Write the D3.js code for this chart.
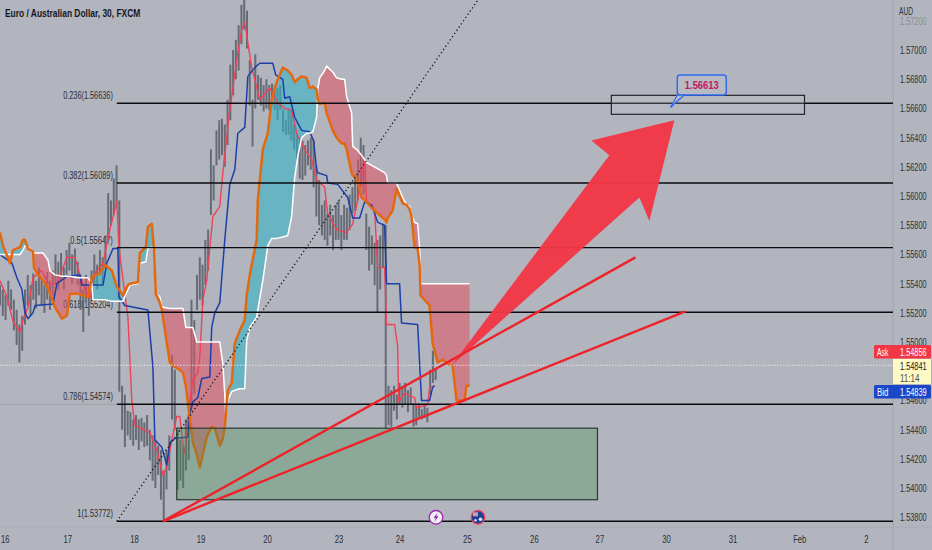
<!DOCTYPE html>
<html>
<head>
<meta charset="utf-8">
<script src="https://cdn.jsdelivr.net/npm/d3@7"></script>
<style>
  html, body { margin: 0; padding: 0; background: #b2b5be; }
  svg { display: block; }
  text { font-family: "Liberation Sans", sans-serif; }
</style>
</head>
<body>
<div id="chart"></div>
<script>
'use strict';

// 30 minute bars counted from the open of the 16th, one label per session
var dayTickBars = [3.5, 48.5, 96.6, 144.5, 192.4, 244, 288, 336.5, 384.8, 432, 480, 528, 576, 624];
var dayTickLabels = ['16', '17', '18', '19', '20', '23', '24', '25', '26', '27', '30', '31', 'Feb', '2'];
var priceTicks = [1.572, 1.57, 1.568, 1.566, 1.564, 1.562, 1.56, 1.558, 1.556, 1.554, 1.552, 1.55, 1.546, 1.544, 1.542, 1.54, 1.538];

// fib retracement
var fibRatios = ['0.236', '0.382', '0.5', '0.618', '0.786', '1'];
var fibPrices = [1.56636, 1.56089, 1.55647, 1.55204, 1.54574, 1.53772];

// candles, one high/low pair every 2 bars
var candleHighs = [1.5539,1.5536,1.5532,1.5542,1.5536,1.5529,1.5522,1.5512,1.5518,1.5536,1.5546,1.5539,1.5547,1.5542,1.5551,1.5544,1.5539,1.5548,1.5542,1.5549,
  1.5560,1.5555,1.5561,1.5551,1.5563,1.5568,1.5560,1.5564,1.5555,1.5546,1.5536,1.5546,1.5539,1.5549,1.5560,1.5553,1.5563,1.5558,1.5573,1.5602,
  1.5597,1.5612,1.5621,1.5597,1.5470,1.5464,1.5453,1.5452,1.5447,1.5450,1.5447,1.5448,1.5445,1.5450,1.5440,1.5436,1.5433,1.5429,1.5426,1.5412,
  1.5426,1.5436,1.5491,1.5481,1.5440,1.5433,1.5429,1.5447,1.5450,1.5529,1.5515,1.5546,1.5558,1.5553,1.5570,1.5577,1.5632,1.5621,1.5645,1.5652,
  1.5653,1.5649,1.5666,1.5690,1.5700,1.5707,1.5717,1.5731,1.5740,1.5727,1.5693,1.5666,1.5697,1.5683,1.5681,1.5676,1.5680,1.5676,1.5677,1.5676,
  1.5674,1.5676,1.5659,1.5652,1.5660,1.5659,1.5649,1.5642,1.5640,1.5638,1.5635,1.5638,1.5640,1.5638,1.5621,1.5611,1.5594,1.5597,1.5588,1.5594,
  1.5587,1.5594,1.5597,1.5587,1.5594,1.5592,1.5601,1.5606,1.5614,1.5625,1.5640,1.5635,1.5588,1.5579,1.5573,1.5568,1.5570,1.5573,1.5581,1.5580,
  1.5470,1.5467,1.5470,1.5464,1.5472,1.5470,1.5472,1.5467,1.5469,1.5458,1.5457,1.5458,1.5454,1.5458,1.5455,1.5481,1.5494,1.5482];
var candleLows = [1.5525,1.5518,1.5515,1.5525,1.5522,1.5508,1.5498,1.5486,1.5494,1.5512,1.5525,1.5518,1.5529,1.5523,1.5532,1.5525,1.5520,1.5529,1.5522,1.5532,
  1.5539,1.5536,1.5542,1.5536,1.5546,1.5549,1.5540,1.5546,1.5539,1.5522,1.5507,1.5529,1.5518,1.5529,1.5539,1.5536,1.5546,1.5540,1.5553,1.5570,
  1.5580,1.5587,1.5594,1.5466,1.5440,1.5428,1.5436,1.5433,1.5429,1.5433,1.5426,1.5432,1.5428,1.5429,1.5419,1.5405,1.5400,1.5409,1.5392,1.5378,
  1.5399,1.5412,1.5447,1.5440,1.5399,1.5405,1.5400,1.5412,1.5419,1.5453,1.5464,1.5522,1.5529,1.5525,1.5539,1.5549,1.5587,1.5597,1.5621,1.5625,
  1.5628,1.5620,1.5635,1.5652,1.5669,1.5680,1.5686,1.5704,1.5714,1.5701,1.5662,1.5634,1.5660,1.5666,1.5662,1.5658,1.5660,1.5659,1.5662,1.5659,
  1.5652,1.5659,1.5644,1.5642,1.5642,1.5638,1.5632,1.5625,1.5612,1.5611,1.5614,1.5621,1.5618,1.5606,1.5586,1.5580,1.5573,1.5570,1.5566,1.5573,
  1.5563,1.5570,1.5570,1.5563,1.5570,1.5570,1.5577,1.5588,1.5590,1.5597,1.5606,1.5601,1.5563,1.5549,1.5553,1.5539,1.5520,1.5536,1.5551,1.5441,
  1.5443,1.5442,1.5453,1.5447,1.5457,1.5455,1.5457,1.5452,1.5457,1.5442,1.5443,1.5448,1.5447,1.5448,1.5445,1.5464,1.5472,1.5474];

// ichimoku cloud, both spans sampled at the same bars
var cloudBars = [0,2.2,4.3,7.2,9.4,14.4,16.6,18,20.2,23.8,24.5,27.4,31,34.6,36,39.6,44.6,48.2,50.4,56.2,59.8,63.4,66.2,67,72,75.6,80.6,84.2,88.6,92.2,93.6,99.4,100.8,105.1,106.6,109.4,110.9,112.3,115.2,116.6,
  122.4,126,129.6,131.8,133.9,139,141.8,144,149,152.6,154.8,158.4,160.6,162,162.7,164.2,167,169.2,172.8,176.4,177.8,180,185,185.8,189.4,193,195.8,199.4,203.8,207.4,210.2,212.4,214.6,217.4,221,223.2,225.4,228.2,229,230.4,
  234,235.4,239.8,242.6,246.2,248.4,249.8,253.4,254.2,257,260.6,264.2,267.8,273.6,277.2,278.6,279.4,283,285.8,288,290.2,293,295.2,296.6,298.8,301,302.4,303.1,309.6,311.8,315.4,319,322.6,326.2,329,334.8,336.2,338.4];
var spanAPrices = [1.5560,1.5560,1.5560,1.5560,1.5560,1.5560,1.5563,1.5566,1.5565,1.5562,1.5561,1.5561,1.5561,1.5556,1.5549,1.5546,1.5545,1.5545,1.5545,1.5544,1.5544,1.5544,1.5540,1.5529,1.5529,1.5529,1.5528,1.5528,1.5528,1.5536,1.5539,1.5540,1.5554,1.5555,1.5564,1.5565,1.5563,1.5533,1.5531,1.5524,
  1.5523,1.5523,1.5523,1.5523,1.5510,1.5510,1.5500,1.5500,1.5500,1.5500,1.5500,1.5500,1.5485,1.5464,1.5450,1.5460,1.5466,1.5467,1.5468,1.5468,1.5501,1.5510,1.5517,1.5522,1.5542,1.5566,1.5571,1.5571,1.5572,1.5573,1.5586,1.5613,1.5627,1.5640,1.5643,1.5643,1.5644,1.5654,1.5673,1.5681,
  1.5686,1.5689,1.5685,1.5681,1.5680,1.5680,1.5668,1.5657,1.5634,1.5632,1.5628,1.5623,1.5621,1.5618,1.5616,1.5614,1.5609,1.5609,1.5609,1.5604,1.5599,1.5594,1.5593,1.5587,1.5582,1.5581,1.5565,1.5540,1.5540,1.5540,1.5540,1.5540,1.5540,1.5540,1.5540,1.5540,1.5540,1.5540];
var spanBPrices = [1.5575,1.5566,1.5561,1.5554,1.5563,1.5565,1.5570,1.5570,1.5564,1.5562,1.5551,1.5546,1.5542,1.5537,1.5533,1.5524,1.5516,1.5518,1.5533,1.5533,1.5532,1.5531,1.5544,1.5545,1.5547,1.5553,1.5549,1.5538,1.5532,1.5539,1.5540,1.5541,1.5561,1.5565,1.5579,1.5581,1.5565,1.5533,1.5527,1.5522,
  1.5486,1.5483,1.5481,1.5479,1.5470,1.5431,1.5423,1.5414,1.5435,1.5442,1.5441,1.5429,1.5434,1.5442,1.5450,1.5467,1.5472,1.5499,1.5508,1.5515,1.5532,1.5546,1.5570,1.5597,1.5632,1.5643,1.5666,1.5678,1.5688,1.5686,1.5683,1.5678,1.5680,1.5682,1.5681,1.5674,1.5675,1.5673,1.5666,1.5663,
  1.5664,1.5657,1.5645,1.5640,1.5636,1.5636,1.5632,1.5616,1.5614,1.5612,1.5599,1.5596,1.5592,1.5587,1.5584,1.5582,1.5585,1.5590,1.5605,1.5600,1.5595,1.5594,1.5591,1.5586,1.5565,1.5564,1.5553,1.5532,1.5525,1.5499,1.5486,1.5488,1.5485,1.5484,1.5460,1.5460,1.5470,1.5470];

// base line (blue)
var kijunBars = [0,8.6,12.2,15.8,18,20.2,23.8,25.2,38.2,41,48.2,57.6,59,74.2,77,81.4,85,85.7,90,106.6,110.2,111.6,116.6,120.2,122.4,126,135.4,136.8,139,142.6,145.4,151.2,152.6,154.8,158.4,162,165.6,169.2,171.4,176.4,
  178.6,183.6,187.2,196.6,198.7,203.8,205.2,208.8,212.4,217.4,223.2,226,228.2,229,235.4,236.2,243.4,250.6,254.2,259.2,262.8,267.8,272.2,277.2,278.6,288,289.4,301,303.8,309.6,311.8,313.2];
var kijunPrices = [1.5560,1.5554,1.5544,1.5536,1.5520,1.5516,1.5520,1.5525,1.5526,1.5540,1.5545,1.5546,1.5539,1.5539,1.5554,1.5564,1.5564,1.5531,1.5525,1.5522,1.5483,1.5433,1.5428,1.5416,1.5431,1.5434,1.5435,1.5451,1.5459,1.5462,1.5475,1.5476,1.5510,1.5520,1.5527,1.5570,1.5608,1.5618,1.5643,1.5647,
  1.5682,1.5688,1.5691,1.5691,1.5683,1.5680,1.5667,1.5668,1.5654,1.5645,1.5644,1.5638,1.5618,1.5616,1.5614,1.5609,1.5608,1.5599,1.5585,1.5585,1.5596,1.5594,1.5582,1.5580,1.5540,1.5540,1.5513,1.5512,1.5460,1.5460,1.5469,1.5470];

// conversion line (red)
var tenkanBars = [0,5,9.4,14.4,16.6,20.2,23.8,30.2,34.6,41,48.2,54,57.6,61.2,64.8,68.4,74.2,79.2,84.2,85.7,92.2,95,97.2,108,113,117.4,120.2,123.8,127.4,129.6,131.8,133.2,136.8,139,142.6,144,146.2,149,153.4,158.4,
  160.6,165.6,170.6,174.2,176.4,181.4,187.2,194.4,200.2,205.2,210.2,213.8,219.6,224.6,228.2,234,236.2,242.6,249.8,254.2,257.8,262.8,264.2,267.8,270,272.2,277.2,278.6,284.4,286.6,287.3,291.6,298.8,300.2,308.2,309.6,313.2];
var tenkanPrices = [1.5542,1.5531,1.5514,1.5507,1.5515,1.5524,1.5544,1.5549,1.5540,1.5540,1.5558,1.5558,1.5546,1.5536,1.5530,1.5547,1.5554,1.5577,1.5596,1.5565,1.5517,1.5460,1.5443,1.5438,1.5426,1.5409,1.5414,1.5433,1.5449,1.5449,1.5431,1.5424,1.5460,1.5474,1.5479,1.5490,1.5529,1.5542,1.5586,1.5593,
  1.5616,1.5659,1.5693,1.5714,1.5719,1.5688,1.5666,1.5674,1.5664,1.5660,1.5659,1.5643,1.5632,1.5625,1.5611,1.5606,1.5588,1.5577,1.5575,1.5581,1.5597,1.5625,1.5597,1.5592,1.5590,1.5551,1.5551,1.5512,1.5512,1.5497,1.5459,1.5465,1.5462,1.5455,1.5457,1.5469,1.5470];

// drawing tools
var fibLineBars = [84.2, 344.2];
var fibLinePrices = [1.53772, 1.5734];
var trendBars = [[117.4, 458], [117.4, 494]];
var trendPrices = [[1.53772, 1.5558], [1.53772, 1.5521]];
var arrowBars = [325.4, 439.2, 426.2, 486, 468, 460.8];
var arrowPrices = [1.5484, 1.5628, 1.5638, 1.5652, 1.5583, 1.5599];
var zoneBars = [127.4, 430.6];
var zonePrices = [1.5441, 1.5392];
var targetBars = [440.6, 579.8];
var targetPrices = [1.5669, 1.5656];
var targetLabelBar = 483.8;
var targetLabelPrice = 1.56613;
var lastPrice = 1.54841;
var askPrice = '1.54856';
var bidPrice = '1.54839';

var width = 932, height = 550;
var plotRight = 893, plotBottom = 527;

var x = d3.scaleLinear().domain([0, 671.7]).range([0, width]);
var y = d3.scaleLinear().domain([1.57343, 1.53781]).range([0, 520]);

// the screenshot's type is squeezed horizontally, so fit text to a width per character
function squeeze(sel, perChar) {
    sel.each(function() {
        d3.select(this)
            .attr('textLength', this.textContent.length * perChar)
            .attr('lengthAdjust', 'spacingAndGlyphs');
    });
}

var svg = d3.select('#chart').append('svg')
    .attr('width', width)
    .attr('height', height);

svg.append('rect')
    .attr('width', width)
    .attr('height', height)
    .attr('fill', '#b2b5be');

svg.append('clipPath').attr('id', 'plot')
    .append('rect')
    .attr('width', plotRight)
    .attr('height', plotBottom);

// axes
var xAxis = d3.axisBottom(x)
    .tickValues(dayTickBars)
    .tickSize(0)
    .tickPadding(8.5)
    .tickFormat(function(d, i) { return dayTickLabels[i]; });

svg.append('g')
    .attr('transform', 'translate(0,' + plotBottom + ')')
    .call(xAxis)
    .call(function(g) { g.select('.domain').remove(); })
    .selectAll('text')
    .attr('font-size', 10.5)
    .attr('fill', '#2a2e39')
    .call(squeeze, 4.3);

var yAxis = d3.axisRight(y)
    .tickValues(priceTicks)
    .tickSize(0)
    .tickPadding(7)
    .tickFormat(d3.format('.5f'));

svg.append('g')
    .attr('transform', 'translate(' + plotRight + ',0)')
    .call(yAxis)
    .call(function(g) { g.select('.domain').remove(); })
    .selectAll('text')
    .attr('font-size', 10.5)
    .attr('fill', function(d) { return d === 1.572 ? '#8b8e96' : '#2a2e39'; })
    .call(squeeze, 3.8);

svg.append('line')
    .attr('x1', plotRight).attr('x2', plotRight)
    .attr('y1', 0).attr('y2', height)
    .attr('stroke', '#a1a4ad');
svg.append('line')
    .attr('x1', 0).attr('x2', width)
    .attr('y1', plotBottom).attr('y2', plotBottom)
    .attr('stroke', '#a8abb4');

svg.append('text')
    .attr('x', 899).attr('y', 15)
    .attr('font-size', 10)
    .attr('fill', '#2a2e39')
    .text('AUD')
    .call(squeeze, 4.7);

var plot = svg.append('g').attr('clip-path', 'url(#plot)');

// title
plot.append('text')
    .attr('x', 5).attr('y', 17)
    .attr('font-size', 10.5)
    .attr('font-weight', 'bold')
    .attr('fill', '#131722')
    .text('Euro / Australian Dollar, 30, FXCM')
    .call(squeeze, 3.98);

// fib labels sit under everything else
plot.selectAll('.fib-label')
    .data(fibPrices)
    .enter().append('text')
    .attr('class', 'fib-label')
    .attr('x', x(fibLineBars[0]) - 4)
    .attr('y', function(d) { return y(d) - 4; })
    .attr('text-anchor', 'end')
    .attr('font-size', 10)
    .attr('fill', '#2a2e39')
    .text(function(d, i) { return fibRatios[i] + '(' + d3.format('.5f')(d) + ')'; })
    .call(squeeze, 3.55);

// faint bid line left of the fib
plot.append('line')
    .attr('x1', 0).attr('x2', x(fibLineBars[0]))
    .attr('y1', y(fibPrices[4])).attr('y2', y(fibPrices[4]))
    .attr('stroke', '#9ea1aa');

// candles
plot.append('g').selectAll('line')
    .data(candleHighs)
    .enter().append('line')
    .attr('x1', function(d, i) { return x(i * 2); })
    .attr('x2', function(d, i) { return x(i * 2); })
    .attr('y1', function(d) { return y(d); })
    .attr('y2', function(d, i) { return y(candleLows[i]); })
    .attr('stroke', '#5c616b')
    .attr('stroke-width', 2)
    .attr('stroke-opacity', 0.88);

// cloud: split into runs wherever the two spans cross
function cloudRuns() {
    var runs = [];
    var run = null;
    cloudBars.forEach(function(bar, i) {
        var a = spanAPrices[i], b = spanBPrices[i];
        var up = a >= b;
        if (run && run.up !== up) {
            var pa = spanAPrices[i-1], pb = spanBPrices[i-1], pbar = cloudBars[i-1];
            var t = (pa - pb) / ((pa - pb) - (a - b));
            var cross = { bar: pbar + (bar - pbar) * t, a: pa + (a - pa) * t, b: pa + (a - pa) * t };
            run.points.push(cross);
            runs.push(run);
            run = { up: up, points: [cross] };
        }
        if (!run) { run = { up: up, points: [] }; }
        run.points.push({ bar: bar, a: a, b: b });
    });
    runs.push(run);
    return runs;
}

var cloudArea = d3.area()
    .x(function(d) { return x(d.bar); })
    .y0(function(d) { return y(d.a); })
    .y1(function(d) { return y(d.b); });

plot.append('g').selectAll('path')
    .data(cloudRuns())
    .enter().append('path')
    .attr('d', function(d) { return cloudArea(d.points); })
    .attr('fill', function(d) { return d.up ? '#e05464' : '#2fb4c8'; })
    .attr('fill-opacity', 0.56);

function seriesLine(bars, prices, color, weight) {
    var line = d3.line()
        .x(function(d) { return x(d); })
        .y(function(d, i) { return y(prices[i]); });
    plot.append('path')
        .attr('d', line(bars))
        .attr('fill', 'none')
        .attr('stroke', color)
        .attr('stroke-width', weight)
        .attr('stroke-linejoin', 'round');
}

seriesLine(tenkanBars, tenkanPrices, '#ef4358', 1.4);
seriesLine(kijunBars, kijunPrices, '#1c3faa', 1.5);
seriesLine(cloudBars, spanAPrices, '#ffffff', 1.5);
seriesLine(cloudBars, spanBPrices, '#e2690f', 2.5);

// demand zone
plot.append('rect')
    .attr('x', x(zoneBars[0]))
    .attr('y', y(zonePrices[0]))
    .attr('width', x(zoneBars[1]) - x(zoneBars[0]))
    .attr('height', y(zonePrices[1]) - y(zonePrices[0]))
    .attr('fill', '#3f9050')
    .attr('fill-opacity', 0.33)
    .attr('stroke', '#2c3a33')
    .attr('stroke-width', 1.2);

// last price line
plot.append('line')
    .attr('x1', 0).attr('x2', plotRight)
    .attr('y1', y(lastPrice)).attr('y2', y(lastPrice))
    .attr('stroke', '#e9dfe0')
    .attr('stroke-dasharray', '1.5 1.5');

// fib lines
plot.selectAll('.fib-line')
    .data(fibPrices)
    .enter().append('line')
    .attr('class', 'fib-line')
    .attr('x1', x(fibLineBars[0])).attr('x2', plotRight)
    .attr('y1', function(d) { return y(d); })
    .attr('y2', function(d) { return y(d); })
    .attr('stroke', '#0b0c10')
    .attr('stroke-width', 1.4);

plot.append('line')
    .attr('x1', x(fibLineBars[0])).attr('y1', y(fibLinePrices[0]))
    .attr('x2', x(fibLineBars[1])).attr('y2', y(fibLinePrices[1]))
    .attr('stroke', '#15171c')
    .attr('stroke-width', 1.3)
    .attr('stroke-dasharray', '1.3 2.6');

// target box
plot.append('rect')
    .attr('x', x(targetBars[0]))
    .attr('y', y(targetPrices[0]))
    .attr('width', x(targetBars[1]) - x(targetBars[0]))
    .attr('height', y(targetPrices[1]) - y(targetPrices[0]))
    .attr('fill', '#c4c6cd')
    .attr('fill-opacity', 0.25)
    .attr('stroke', '#23252b')
    .attr('stroke-width', 1.2);

// big arrow
var arrowLine = d3.line()
    .x(function(d) { return x(d); })
    .y(function(d, i) { return y(arrowPrices[i]); });

plot.append('path')
    .attr('d', arrowLine(arrowBars) + 'Z')
    .attr('fill', '#f23645')
    .attr('fill-opacity', 0.96);

// trend lines
trendBars.forEach(function(bars, i) {
    plot.append('line')
        .attr('x1', x(bars[0])).attr('y1', y(trendPrices[i][0]))
        .attr('x2', x(bars[1])).attr('y2', y(trendPrices[i][1]))
        .attr('stroke', '#ee2329')
        .attr('stroke-width', 2.4);
});

// price note
var nx = x(targetLabelBar), ny = y(targetLabelPrice);
var note = plot.append('g');
note.append('rect')
    .attr('x', nx + 6).attr('y', ny - 31.5)
    .attr('width', 49).attr('height', 20)
    .attr('rx', 3)
    .attr('fill', '#b7bac3')
    .attr('stroke', '#2f6bef')
    .attr('stroke-width', 1.5);
note.append('path')
    .attr('d', 'M' + nx + ',' + ny + 'L' + (nx + 6) + ',' + (ny - 11.5) + 'L' + (nx + 13) + ',' + (ny - 11.5) + 'Z')
    .attr('fill', '#b7bac3')
    .attr('stroke', '#2f6bef')
    .attr('stroke-width', 1.2);
note.append('circle')
    .attr('cx', nx).attr('cy', ny).attr('r', 1.2)
    .attr('fill', '#2f6bef');
note.append('text')
    .attr('x', nx + 30.5).attr('y', ny - 17.5)
    .attr('text-anchor', 'middle')
    .attr('font-size', 10.5)
    .attr('font-weight', 'bold')
    .attr('fill', '#c2185b')
    .text(d3.format('.5f')(targetLabelPrice))
    .call(squeeze, 4.85);

// event icons on the bottom line
var iconY = y(fibPrices[5]) - 4;
var bolt = plot.append('g').attr('transform', 'translate(' + 436 + ',' + iconY + ')');
bolt.append('circle').attr('r', 6.8).attr('fill', '#eef0f3').attr('stroke', '#9c27b0').attr('stroke-width', 1.4);
bolt.append('path').attr('d', 'M1.5,-4.5L-2.5,0.8L-0.3,0.8L-1.5,4.5L2.5,-1L0.3,-1Z').attr('fill', '#9c27b0');
var flag = plot.append('g').attr('transform', 'translate(' + 478 + ',' + iconY + ')');
flag.append('circle').attr('r', 6.8).attr('fill', '#1e3f9c').attr('stroke', '#ef4358').attr('stroke-width', 1.4);
flag.append('rect').attr('x', -5).attr('y', -5).attr('width', 5).attr('height', 4).attr('fill', '#c9a2ad');
flag.append('circle').attr('cx', 2.5).attr('cy', 2).attr('r', 1.8).attr('fill', '#dfe4f3');
flag.append('circle').attr('cx', -2.5).attr('cy', 3).attr('r', 1.2).attr('fill', '#dfe4f3');

// price tags on the right
function priceTag(top, fill, label, value) {
    svg.append('rect')
        .attr('x', 874).attr('y', top)
        .attr('width', 57).attr('height', 13.5)
        .attr('rx', 1.5)
        .attr('fill', fill);
    svg.append('text')
        .attr('x', 877).attr('y', top + 10.5)
        .attr('font-size', 10.5)
        .attr('fill', '#ffffff')
        .text(label)
        .call(squeeze, 3.8);
    svg.append('text')
        .attr('x', 900).attr('y', top + 10.5)
        .attr('font-size', 10.5)
        .attr('fill', '#ffffff')
        .text(value)
        .call(squeeze, 3.8);
}

svg.append('rect')
    .attr('x', 893).attr('y', 359)
    .attr('width', 38).attr('height', 25)
    .attr('fill', '#fff9c4');
svg.append('text')
    .attr('x', 900).attr('y', 370)
    .attr('font-size', 10.5)
    .attr('fill', '#131722')
    .text(d3.format('.5f')(lastPrice))
    .call(squeeze, 3.8);
svg.append('text')
    .attr('x', 900).attr('y', 381.5)
    .attr('font-size', 10)
    .attr('fill', '#4a4d55')
    .text('11:14')
    .call(squeeze, 3.9);

priceTag(345, '#f23645', 'Ask', askPrice);
priceTag(385, '#1a47c8', 'Bid', bidPrice);
</script>
</body>
</html>
